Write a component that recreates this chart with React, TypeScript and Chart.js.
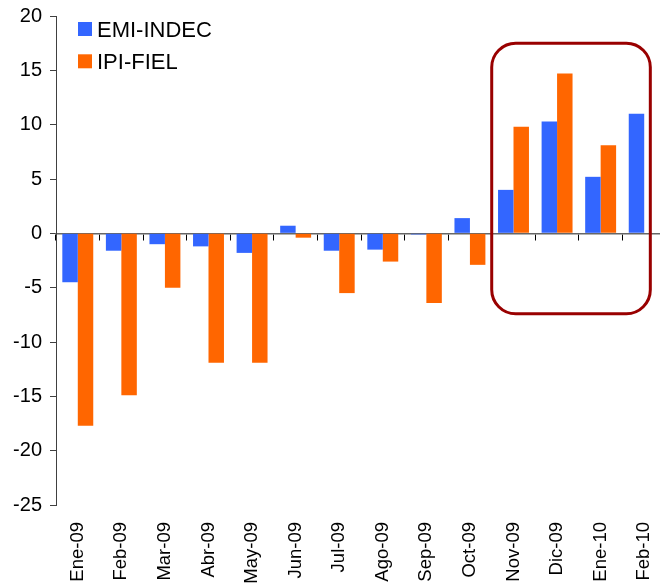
import React, { useEffect, useRef } from "react";
import { Chart, registerables } from "chart.js";

Chart.register(...registerables);

const categories = [
  "Ene-09", "Feb-09", "Mar-09", "Abr-09", "May-09", "Jun-09", "Jul-09",
  "Ago-09", "Sep-09", "Oct-09", "Nov-09", "Dic-09", "Ene-10", "Feb-10",
];
const emiIndec = [-4.5, -1.6, -1.0, -1.2, -1.8, 0.7, -1.6, -1.5, -0.1, 1.4, 4.0, 10.3, 5.2, 11.0];
const ipiFiel = [-17.7, -14.9, -5.0, -11.9, -11.9, -0.4, -5.5, -2.6, -6.4, -2.9, 9.8, 14.7, 8.1, null];
const seriesNames = ["EMI-INDEC", "IPI-FIEL"];
const yMin = -25;
const yMax = 20;
const yStep = 5;
// highlighted region (category index range and value range)
const highlightFrom = 9.5;
const highlightTo = 13.14;
const highlightTop = 17.5;
const highlightBottom = -7.4;

const FONT = '"Liberation Sans", Arial, Helvetica, sans-serif';
const BLUE = "#3366FF";
const ORANGE = "#FF6600";

const legendPlugin = {
  id: "insideLegend",
  afterDraw(chart: any) {
    const { ctx, chartArea } = chart;
    ctx.save();
    ctx.font = `22px ${FONT}`;
    ctx.textBaseline = "alphabetic";
    ctx.textAlign = "left";
    chart.data.datasets.forEach((ds: any, i: number) => {
      const x = chartArea.left + 22;
      const y = chartArea.top + 6 + i * 32.3;
      ctx.fillStyle = ds.backgroundColor;
      ctx.fillRect(x, y, 14, 14);
      ctx.fillStyle = "#000";
      ctx.fillText(ds.label, x + 19, y + 14.5);
    });
    ctx.restore();
  },
};

const highlightPlugin = {
  id: "highlightBox",
  afterDatasetsDraw(chart: any) {
    const { ctx } = chart;
    const xs = chart.scales.x;
    const ys = chart.scales.y;
    const l = xs.getPixelForValue(highlightFrom);
    const r = xs.getPixelForValue(highlightTo);
    const t = ys.getPixelForValue(highlightTop);
    const b = ys.getPixelForValue(highlightBottom);
    ctx.save();
    ctx.strokeStyle = "#990000";
    ctx.lineWidth = 3;
    ctx.beginPath();
    ctx.roundRect(l, t, r - l, b - t, 24);
    ctx.stroke();
    ctx.restore();
  },
};

export default function App() {
  const ref = useRef<HTMLCanvasElement | null>(null);
  useEffect(() => {
    if (!ref.current) return;
    const chart = new Chart(ref.current, {
      type: "bar",
      data: {
        labels: categories,
        datasets: [
          { label: seriesNames[0], data: emiIndec, backgroundColor: BLUE, borderWidth: 0 },
          { label: seriesNames[1], data: ipiFiel as any, backgroundColor: ORANGE, borderWidth: 0 },
        ],
      },
      options: {
        responsive: false,
        animation: false,
        layout: { padding: { top: 16, left: 0, right: 0, bottom: 0 } },
        datasets: { bar: { categoryPercentage: 0.71, barPercentage: 1 } },
        plugins: { legend: { display: false }, tooltip: { enabled: false } },
        scales: {
          x: {
            type: "category",
            offset: true,
            grid: { display: false, drawTicks: false, offset: true },
            border: { display: false },
            ticks: {
              autoSkip: false,
              maxRotation: 90,
              minRotation: 90,
              padding: 17,
              color: "#000",
              font: { size: 18.5, family: FONT },
            },
            afterFit(s: any) {
              s.height = 82;
              s.paddingLeft = 0;
              s.paddingRight = 0;
            },
          },
          x2: {
            type: "category",
            labels: categories,
            position: { y: 0 } as any,
            offset: true,
            grid: {
              display: true,
              offset: true,
              drawOnChartArea: false,
              drawTicks: true,
              tickLength: 6,
              color: "#000",
            },
            border: { display: true, color: "#666", width: 1.5 },
            ticks: { display: false },
          },
          y: {
            type: "linear",
            min: yMin,
            max: yMax,
            ticks: {
              stepSize: yStep,
              color: "#000",
              padding: 8,
              font: { size: 20, family: FONT },
            },
            grid: { drawOnChartArea: false, drawTicks: true, tickLength: 6, color: "#404040" },
            border: { display: true, color: "#404040" },
            afterFit(s: any) {
              s.width = 56;
              s.paddingTop = 0;
              s.paddingBottom = 0;
            },
          },
        } as any,
      },
      plugins: [highlightPlugin, legendPlugin],
    });
    return () => chart.destroy();
  }, []);

  return (
    <div
      style={{
        position: "fixed",
        left: 0,
        top: 0,
        width: 660,
        height: 587,
        overflow: "hidden",
        background: "#fff",
      }}
    >
      <canvas ref={ref} width={666} height={587} style={{ display: "block", width: 666, height: 587 }} />
    </div>
  );
}
